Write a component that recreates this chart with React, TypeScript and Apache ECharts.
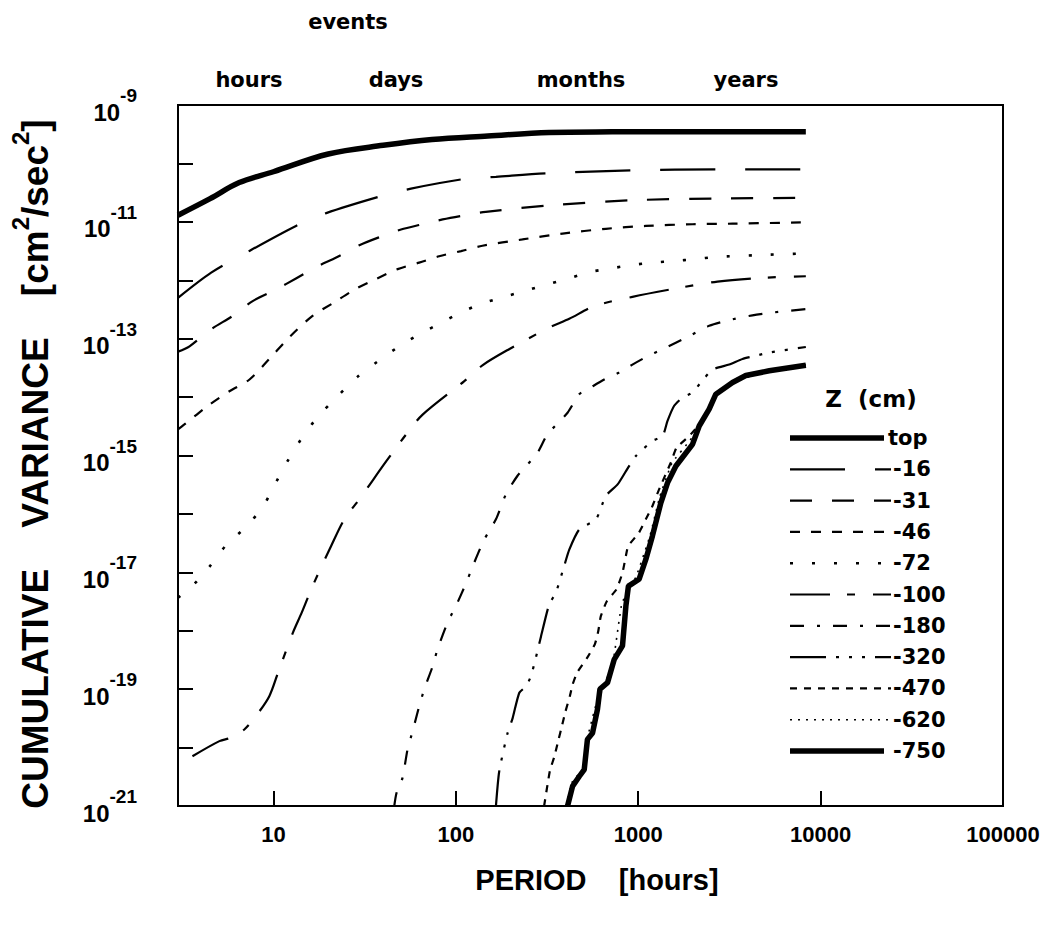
import { useEffect, useRef } from "react";
import * as echarts from "echarts";

// ---- data (period in hours, cumulative variance in cm^2/sec^2) ----
const periodTop = [3, 4.5, 6.5, 10, 20, 40, 74, 150, 325, 720, 2000, 8300];
const valueTop = [1.3e-11, 2.5e-11, 4.7e-11, 7.2e-11, 1.45e-10, 2.04e-10, 2.57e-10, 2.95e-10, 3.39e-10, 3.47e-10, 3.5e-10, 3.5e-10];

const period16 = [3, 4.56, 6.8, 13.3, 19.5, 38.9, 56.8, 111, 166, 325, 927, 2710, 8300];
const value16 = [5.0e-13, 1.35e-12, 2.75e-12, 8.5e-12, 1.41e-11, 2.75e-11, 3.7e-11, 5.4e-11, 5.9e-11, 6.8e-11, 7.6e-11, 7.9e-11, 7.9e-11];

const period31 = [3, 3.47, 4.56, 5.98, 7.7, 10.3, 13.3, 17.5, 22.1, 29.6, 38.9, 50.1, 65.8, 84.7, 111, 146, 325, 927, 2710, 8300];
const value31 = [6.0e-14, 7.4e-14, 1.45e-13, 2.45e-13, 4.4e-13, 6.9e-13, 1.07e-12, 1.74e-12, 2.45e-12, 3.98e-12, 5.6e-12, 7.4e-12, 9.1e-12, 1.1e-11, 1.29e-11, 1.48e-11, 1.91e-11, 2.34e-11, 2.51e-11, 2.57e-11];

const period46 = [3, 3.25, 4.46, 5.74, 7.4, 9.5, 12.2, 16.4, 21.6, 27.8, 36.5, 48, 63, 81, 107, 140, 232, 385, 665, 1100, 1985, 3290, 8300];
const value46 = [2.8e-15, 3.4e-15, 7.4e-15, 1.26e-14, 2.0e-14, 4.5e-14, 1.05e-13, 2.45e-13, 4.2e-13, 6.9e-13, 1.05e-12, 1.55e-12, 2.0e-12, 2.57e-12, 3.16e-12, 3.9e-12, 5.0e-12, 6.3e-12, 7.6e-12, 8.5e-12, 9.1e-12, 9.3e-12, 9.8e-12];

const period72 = [3, 3.47, 4.5, 5.5, 7.26, 8.9, 10.3, 11.9, 14.2, 17.1, 22.1, 29, 37.8, 49, 64.4, 83, 109, 140, 184, 240, 318, 415, 539, 700, 916, 1200, 1575, 2027, 2690, 4500, 8300];
const value72 = [3.7e-18, 5.2e-18, 1.29e-17, 2.9e-17, 6.5e-17, 1.45e-16, 3.4e-16, 7.8e-16, 1.91e-15, 4.2e-15, 9.8e-15, 2.24e-14, 4.2e-14, 7.4e-14, 1.23e-13, 1.86e-13, 2.9e-13, 4.0e-13, 5.2e-13, 6.6e-13, 8.5e-13, 1.07e-12, 1.38e-12, 1.58e-12, 1.82e-12, 2.0e-12, 2.14e-12, 2.29e-12, 2.51e-12, 2.69e-12, 2.88e-12];

const period100 = [3.6, 5.06, 5.86, 6.93, 8.04, 9.5, 10.6, 12.8, 14.3, 16.4, 20.7, 24.5, 29.6, 41.5, 53.4, 65.8, 111, 140, 196, 325, 419, 574, 930, 1678, 2720, 4800, 8300];
const value100 = [7.1e-21, 1.29e-20, 1.48e-20, 2.04e-20, 3.5e-20, 7.6e-20, 1.91e-19, 9.3e-19, 2.04e-18, 5.8e-18, 2.8e-17, 8.1e-17, 1.78e-16, 7.9e-16, 2.29e-15, 5.0e-15, 1.86e-14, 3.5e-14, 6.6e-14, 1.55e-13, 2.19e-13, 3.6e-13, 5.2e-13, 7.4e-13, 9.5e-13, 1.1e-12, 1.17e-12];

const period180 = [46, 47.4, 51, 54.4, 58, 63, 67.2, 74.6, 79.4, 90.1, 100, 114, 126, 143, 166, 188, 218, 243, 281, 318, 410, 475, 527, 651, 787, 930, 1125, 1360, 1900, 2450, 3285, 4230, 5560, 8300];
const value180 = [1e-21, 1.7e-21, 3.0e-21, 9.3e-21, 1.91e-20, 5.1e-20, 1.0e-19, 2.45e-19, 4.8e-19, 1.38e-18, 2.63e-18, 6.6e-18, 1.45e-17, 3.6e-17, 8.1e-17, 2.14e-16, 4.5e-16, 6.6e-16, 1.12e-15, 2.29e-15, 5.4e-15, 1.12e-14, 1.35e-14, 2.0e-14, 2.63e-14, 3.6e-14, 5.0e-14, 6.6e-14, 1.1e-13, 1.66e-13, 2.14e-13, 2.51e-13, 2.82e-13, 3.2e-13];

const period320 = [166, 173, 192, 205, 223, 243, 258, 275, 293, 325, 354, 393, 419, 475, 587, 665, 771, 857, 971, 1200, 1360, 1448, 1575, 1750, 1985, 2207, 2555, 3155, 3730, 4420, 5230, 8300];
const value320 = [1e-21, 3.9e-21, 1.74e-20, 3.2e-20, 8.7e-20, 1.12e-19, 1.66e-19, 3.5e-19, 7.9e-19, 2.82e-18, 4.5e-18, 1.29e-17, 2.45e-17, 5.4e-17, 8.1e-17, 2.04e-16, 3.2e-16, 5.4e-16, 9.8e-16, 1.78e-15, 2.14e-15, 3.9e-15, 7.1e-15, 9.8e-15, 1.2e-14, 1.78e-14, 2.95e-14, 3.6e-14, 4.5e-14, 5.1e-14, 5.8e-14, 7.2e-14];

const period470 = [305, 328, 346, 366, 382, 398, 422, 437, 462, 527, 579, 604, 624, 673, 760, 820, 856, 881, 1011, 1101, 1188, 1302, 1510, 1621, 1900, 2327, 2710, 3575, 5230, 8300];
const value470 = [1e-21, 4.0e-21, 6.8e-21, 1.38e-20, 2.34e-20, 4.0e-20, 7.6e-20, 1.2e-19, 1.91e-19, 3.5e-19, 5.9e-19, 9.8e-19, 1.78e-18, 3.2e-18, 5.1e-18, 9.8e-18, 1.91e-17, 2.82e-17, 4.8e-17, 8.1e-17, 1.29e-16, 2.63e-16, 7.6e-16, 1.35e-15, 2.14e-15, 4.5e-15, 1.15e-14, 2.0e-14, 2.85e-14, 3.55e-14];

const period620 = [402, 432, 505, 524, 588, 665, 735, 815, 975, 1160, 1315, 1530, 1920, 2320, 2630, 3360, 5230, 8300];
const value620 = [1e-21, 2.5e-21, 4.6e-21, 1.35e-20, 5.5e-20, 1.35e-19, 3.5e-19, 3.0e-18, 8.5e-18, 4.2e-17, 2.0e-16, 7.4e-16, 1.8e-15, 4.3e-15, 1.05e-14, 1.85e-14, 2.8e-14, 3.45e-14];

const period750 = [410, 437, 475, 506, 527, 562, 598, 617, 679, 738, 820, 856, 884, 1011, 1101, 1197, 1331, 1448, 1610, 1985, 2160, 2450, 2665, 3290, 3890, 5230, 8300];
const value750 = [1e-21, 2.19e-21, 3.2e-21, 4.2e-21, 1.38e-20, 1.78e-20, 4.5e-20, 1.0e-19, 1.29e-19, 3.2e-19, 5.5e-19, 2.63e-18, 5.8e-18, 7.6e-18, 1.66e-17, 4.2e-17, 1.55e-16, 3.4e-16, 6.6e-16, 1.55e-15, 3.2e-15, 6.2e-15, 1.12e-14, 1.78e-14, 2.34e-14, 2.82e-14, 3.5e-14];

const seriesNames = ["top", "-16", "-31", "-46", "-72", "-100", "-180", "-320", "-470", "-620", "-750"];
const seriesPeriods = [periodTop, period16, period31, period46, period72, period100, period180, period320, period470, period620, period750];
const seriesValues = [valueTop, value16, value31, value46, value72, value100, value180, value320, value470, value620, value750];

const xTickValues = [10, 100, 1000, 10000, 100000];
const yTickValues = [1e-21, 1e-20, 1e-19, 1e-18, 1e-17, 1e-16, 1e-15, 1e-14, 1e-13, 1e-12, 1e-11, 1e-10, 1e-9];
const yLabelValues = [1e-21, 1e-19, 1e-17, 1e-15, 1e-13, 1e-11, 1e-9];
const timeScaleLabels = ["hours", "days", "months", "years"];

// ---- styles ----
const lineStyles: { width: number; type: any; smooth: number }[] = [
  { width: 5.5, type: "solid", smooth: 0.35 },
  { width: 2.2, type: [55, 30], smooth: 0.3 },
  { width: 2.2, type: [22, 20], smooth: 0.3 },
  { width: 2.2, type: [10, 11], smooth: 0.3 },
  { width: 2.6, type: [3, 19], smooth: 0.3 },
  { width: 2.2, type: [40, 17, 8, 18], smooth: 0.3 },
  { width: 2.2, type: [14, 13, 3, 13], smooth: 0.25 },
  { width: 2.2, type: [36, 10, 3, 10, 3, 10, 3, 10], smooth: 0.2 },
  { width: 2.2, type: [7, 7], smooth: 0.15 },
  { width: 1.6, type: [2, 6], smooth: 0.1 },
  { width: 5.5, type: "solid", smooth: 0 },
];

const BOLD_SANS = "'Liberation Sans', Arial, sans-serif";
const WIDE_SANS = "'DejaVu Sans', sans-serif";

export default function App() {
  const ref = useRef<HTMLDivElement>(null);

  useEffect(() => {
    if (!ref.current) return;
    const chart = echarts.init(ref.current, null, { renderer: "svg" });

    const series = seriesNames.map((name, i) => ({
      name,
      type: "line",
      data: seriesPeriods[i].map((p, j) => [p, seriesValues[i][j]]),
      showSymbol: false,
      symbol: "none",
      clip: true,
      smooth: lineStyles[i].smooth,
      lineStyle: { color: "#000", width: lineStyles[i].width, type: lineStyles[i].type, cap: "butt" },
      z: i === 0 || i === seriesNames.length - 1 ? 5 : 3,
    }));

    const legendTop = 438;
    const legendStep = 31.3;
    const legendGraphics: any[] = [];
    seriesNames.forEach((name, i) => {
      const y = legendTop + i * legendStep;
      const solid = lineStyles[i].type === "solid";
      legendGraphics.push({
        type: "line",
        shape: { x1: 790, y1: y, x2: solid ? 884 : 891, y2: y },
        style: {
          stroke: "#000",
          lineWidth: lineStyles[i].width,
          lineDash: solid ? null : lineStyles[i].type,
          lineCap: "butt",
        },
      });
      legendGraphics.push({
        type: "text",
        x: i === 0 ? 888 : 893,
        y,
        style: {
          text: name,
          fill: "#000",
          font: `bold 21px ${WIDE_SANS}`,
          align: "left",
          verticalAlign: "middle",
        },
      });
    });

    const topLabelX = [249, 396, 581, 746];
    const topGraphics = timeScaleLabels.map((t, i) => ({
      type: "text",
      x: topLabelX[i],
      y: 80,
      style: { text: t, fill: "#000", font: `bold 21px ${WIDE_SANS}`, align: "center", verticalAlign: "middle" },
    }));

    chart.setOption({
      animation: false,
      backgroundColor: "#fff",
      grid: {
        left: 178,
        top: 105,
        right: 55,
        bottom: 120,
        show: true,
        borderColor: "#000",
        borderWidth: 2,
        backgroundColor: "transparent",
      },
      xAxis: {
        type: "log",
        logBase: 10,
        min: 3,
        max: 100000,
        splitNumber: 5,
        axisLine: { show: true, lineStyle: { color: "#000", width: 2 } },
        axisTick: { show: true, inside: true, length: 15, lineStyle: { color: "#000", width: 2 }, customValues: xTickValues },
        minorTick: { show: false },
        splitLine: { show: false },
        axisLabel: {
          customValues: xTickValues,
          margin: 17,
          color: "#000",
          fontFamily: BOLD_SANS,
          fontWeight: "bold",
          fontSize: 22,
          formatter: (v: number) => String(Math.round(v)),
        },
      },
      yAxis: {
        type: "log",
        logBase: 10,
        min: 1e-21,
        max: 1e-9,
        splitNumber: 12,
        axisLine: { show: true, lineStyle: { color: "#000", width: 2 } },
        axisTick: { show: true, inside: true, length: 15, lineStyle: { color: "#000", width: 2 }, customValues: yTickValues },
        minorTick: { show: false },
        splitLine: { show: false },
        axisLabel: {
          customValues: yLabelValues,
          margin: 41,
          color: "#000",
          formatter: (v: number) => `{b|10}{s|${Math.round(Math.log10(v))}}`,
          rich: {
            b: { fontFamily: BOLD_SANS, fontWeight: "bold", fontSize: 24, color: "#000", lineHeight: 38, verticalAlign: "bottom" },
            s: { fontFamily: BOLD_SANS, fontWeight: "bold", fontSize: 19, color: "#000", verticalAlign: "top", lineHeight: 20 },
          },
        },
      },
      series,
      graphic: [
        {
          type: "text",
          x: 348,
          y: 22,
          style: { text: "events", fill: "#000", font: `bold 21px ${WIDE_SANS}`, align: "center", verticalAlign: "middle" },
        },
        ...topGraphics,
        {
          type: "text",
          x: 871,
          y: 399,
          style: { text: "Z  (cm)", fill: "#000", font: `bold 23px ${WIDE_SANS}`, align: "center", verticalAlign: "middle" },
        },
        ...legendGraphics,
        {
          type: "text",
          x: 597,
          y: 880,
          style: { text: "PERIOD    [hours]", fill: "#000", font: `bold 29px ${BOLD_SANS}`, align: "center", verticalAlign: "middle" },
        },
        {
          type: "text",
          x: 31,
          y: 464,
          rotation: Math.PI / 2,
          style: {
            text: "{a|CUMULATIVE    VARIANCE    [cm}{s|2}{a|/sec}{s|2}{a|]}",
            align: "center",
            verticalAlign: "middle",
            rich: {
              a: { fontFamily: BOLD_SANS, fontWeight: "bold", fontSize: 37, fill: "#000", color: "#000", lineHeight: 46, verticalAlign: "bottom" },
              s: { fontFamily: BOLD_SANS, fontWeight: "bold", fontSize: 24, fill: "#000", color: "#000", verticalAlign: "top", lineHeight: 26 },
            },
          },
        },
      ],
    });

    return () => chart.dispose();
  }, []);

  return (
    <div
      ref={ref}
      style={{ position: "fixed", left: 0, top: 0, width: 1058, height: 926, background: "#fff" }}
    />
  );
}
